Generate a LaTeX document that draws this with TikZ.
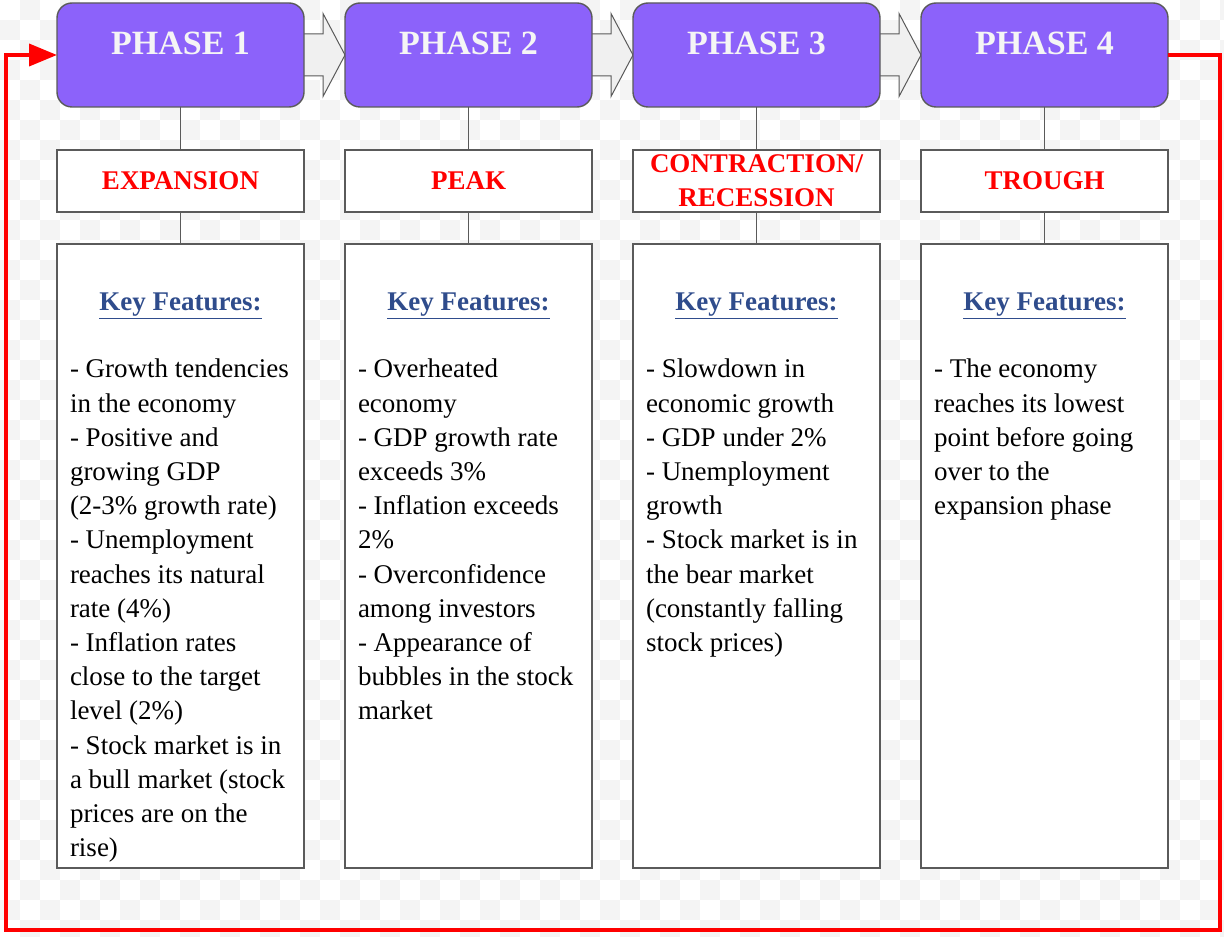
\documentclass[tikz,border=0pt]{standalone}
\usepackage{fontspec}
\setmainfont{Liberation Serif}
\usetikzlibrary{positioning,arrows.meta,backgrounds}

\definecolor{phasefill}{HTML}{8C62FA}
\definecolor{edgegray}{HTML}{5A5A5A}
\definecolor{keyblue}{HTML}{2F4C8C}
\definecolor{checker}{HTML}{F4F4F4}
\definecolor{flowfill}{HTML}{F0F0F0}

\newcommand{\bodysize}{\fontsize{13.5pt}{17.1pt}\selectfont}

\begin{document}
\begin{tikzpicture}[
    x=0.5pt, y=-0.5pt,
    node distance=20.5pt,
    every node/.style = {outer sep=0pt},
    phase/.style = {draw=edgegray, line width=0.7pt, fill=phasefill, rounded corners=7.5pt,
        minimum width=123.5pt, inner sep=0pt, text height=26pt, text depth=26pt,
        text=white!92!gray, font=\fontsize{17pt}{20pt}\selectfont\bfseries},
    stage/.style = {draw=edgegray, line width=0.7pt, fill=white, minimum width=123.5pt,
        minimum height=31pt, inner sep=0pt, align=center, text=red, font=\bodysize\bfseries},
    feature/.style = {draw=edgegray, line width=0.7pt, fill=white, minimum width=123.5pt,
        minimum height=312pt},
    keyhead/.style = {anchor=base, inner sep=0pt, text=keyblue, font=\bodysize\bfseries},
    body/.style = {anchor=north west, inner sep=0pt, align=left, font=\bodysize},
    link/.style = {draw=edgegray, line width=0.6pt},
    flow/.style = {draw=edgegray, fill=flowfill, line width=0.5pt},
    loopback/.style = {draw=red, line width=1.9pt, -{Triangle[length=14pt,width=11pt]}}
    ]
    \useasboundingbox (0,0) rectangle (1224,936);

    % phases along the top
    \node[phase] (p1) at (180.5,55) {PHASE 1};
    \node[phase, right=of p1] (p2) {PHASE 2};
    \node[phase, right=of p2] (p3) {PHASE 3};
    \node[phase, right=of p3] (p4) {PHASE 4};

    % stage names
    \node[stage, below=21.5pt of p1] (s1) {EXPANSION};
    \node[stage, below=21.5pt of p2] (s2) {PEAK};
    \node[stage, below=21.5pt of p3] (s3) {CONTRACTION/\\RECESSION};
    \node[stage, below=21.5pt of p4] (s4) {TROUGH};

    % feature boxes
    \node[feature, below=16pt of s1] (f1) {};
    \node[feature, below=16pt of s2] (f2) {};
    \node[feature, below=16pt of s3] (f3) {};
    \node[feature, below=16pt of s4] (f4) {};

    \foreach \n in {1,...,4} {
        \node[keyhead] (k\n) at ([yshift=-33pt]f\n.north) {\underline{Key Features:}};
        \draw[link] (p\n) -- (s\n);
        \draw[link] (s\n) -- (f\n);
    }

    \node[body] (b1) at ([shift={(6.5pt,-55pt)}]f1.north west)
        {\strut- Growth tendencies\\in the economy\\- Positive and\\growing GDP\\(2-3\% growth rate)\\
         - Unemployment\\reaches its natural\\rate (4\%)\\- Inflation rates\\close to the target\\
         level (2\%)\\- Stock market is in\\a bull market (stock\\prices are on the\\rise)};
    \node[body] (b2) at ([shift={(6.5pt,-55pt)}]f2.north west)
        {\strut- Overheated\\economy\\- GDP growth rate\\exceeds 3\%\\- Inflation exceeds\\2\%\\
         - Overconfidence\\among investors\\- Appearance of\\bubbles in the stock\\market};
    \node[body] (b3) at ([shift={(6.5pt,-55pt)}]f3.north west)
        {\strut- Slowdown in\\economic growth\\- GDP under 2\%\\- Unemployment\\growth\\
         - Stock market is in\\the bear market\\(constantly falling\\stock prices)};
    \node[body] (b4) at ([shift={(6.5pt,-55pt)}]f4.north west)
        {\strut- The economy\\reaches its lowest\\point before going\\over to the\\expansion phase};

    % back from the trough to the start
    \coordinate (corner) at (6,930);
    \draw[loopback] (p4.east) -- ++(52,0) |- (corner) |- (p1.west);

    \begin{scope}[on background layer]
        \fill[white] (0,0) rectangle (1224,936);
        \foreach \i in {0,...,61}
            \foreach \j in {0,...,46} {
                \pgfmathtruncatemacro\odd{mod(\i+\j,2)}
                \ifnum\odd=1 \fill[checker] (20*\i,20*\j) rectangle ++(20,20); \fi
            }
        % hollow arrows between phases
        \foreach \a/\b in {p1/p2,p2/p3,p3/p4}
            \path[flow] ([yshift=10.5pt]\a.east) -- ([shift={(9.5pt,10.5pt)}]\a.east)
                -- ([shift={(9.5pt,20.75pt)}]\a.east) -- (\b.west)
                -- ([shift={(9.5pt,-20.75pt)}]\a.east) -- ([shift={(9.5pt,-10.5pt)}]\a.east)
                -- ([yshift=-10.5pt]\a.east);
    \end{scope}
\end{tikzpicture}
\end{document}
